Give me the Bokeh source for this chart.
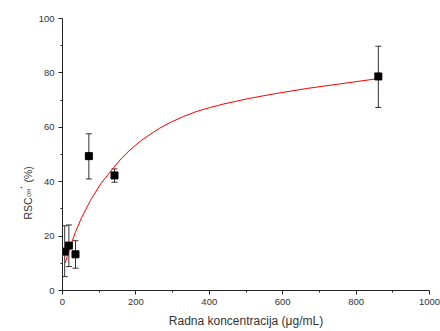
from bokeh.plotting import figure
from bokeh.layouts import row
from bokeh.models import ColumnDataSource, Whisker, TeeHead, Range1d, FixedTicker
from bokeh.core.properties import value
from bokeh.embed import file_html
from bokeh.resources import INLINE

# measured points
conc = [6, 17.4, 35.4, 71.8, 141.7, 860.6]
rsc = [14.3, 16.5, 13.3, 49.4, 42.3, 78.7]
err_low = [5.1, 8.8, 8.2, 41.0, 39.8, 67.3]
err_high = [23.8, 24.1, 18.3, 57.6, 44.7, 89.8]

# fitted curve
fit_x = [8, 12, 22, 35, 52, 76, 104, 140, 160, 181, 210, 240, 265, 294, 330, 367, 400, 440, 508, 576, 667, 758, 860]
fit_y = [10.2, 12.2, 16.5, 21.4, 26.8, 33.1, 39.2, 45.3, 48.5, 51.3, 54.7, 57.5, 59.7, 61.8, 64.0, 65.9, 67.2, 68.6, 70.6, 72.3, 74.3, 76.0, 77.9]

x_ticks = [0, 200, 400, 600, 800, 1000]
y_ticks = [0, 20, 40, 60, 80, 100]

FONT = "Liberation Sans"
TXT = "#333333"

p = figure(frame_width=367, frame_height=272, output_backend="svg", toolbar_location=None,
           x_range=Range1d(0, 1000), y_range=Range1d(0, 100),
           min_border_left=28, min_border_right=11, min_border_top=18, min_border_bottom=41)
p.outline_line_color = None
p.xgrid.visible = False
p.ygrid.visible = False

for ax in (p.xaxis[0], p.yaxis[0]):
    ax.axis_line_color = "#222222"
    ax.major_tick_line_color = "#222222"
    ax.minor_tick_line_color = "#222222"
    ax.major_tick_in = 0
    ax.major_tick_out = 4
    ax.minor_tick_in = 0
    ax.minor_tick_out = 2
    ax.major_label_text_font = FONT
    ax.major_label_text_font_size = "9.5px"
    ax.major_label_text_color = TXT
    ax.major_label_standoff = 4

p.xaxis.ticker = FixedTicker(ticks=x_ticks, minor_ticks=[100, 300, 500, 700, 900])
p.yaxis.ticker = FixedTicker(ticks=y_ticks, minor_ticks=[10, 30, 50, 70, 90])
p.xaxis.axis_label = "Radna koncentracija (\u03bcg/mL)"
p.xaxis.axis_label_text_font = FONT
p.xaxis.axis_label_text_font_size = "12px"
p.xaxis.axis_label_text_font_style = "normal"
p.xaxis.axis_label_text_color = TXT
p.xaxis.axis_label_standoff = 6

src = ColumnDataSource(dict(x=conc, y=rsc, lo=err_low, hi=err_high))
p.add_layout(Whisker(source=src, base="x", lower="lo", upper="hi", line_color="#333333", line_width=1,
                     lower_head=TeeHead(size=6, line_color="#333333", line_width=1),
                     upper_head=TeeHead(size=6, line_color="#333333", line_width=1)))
p.line(fit_x, fit_y, line_color="#ff0000", line_width=1)
p.scatter("x", "y", source=src, marker="square", size=7, fill_color="black", line_color="black")

# y-axis title RSC_OH• (%) drawn in a narrow side figure (1 unit = 1 pixel, y up from bottom)
H = 331
lab = figure(frame_width=34, frame_height=H, output_backend="svg", toolbar_location=None,
             x_range=Range1d(0, 34), y_range=Range1d(0, H),
             x_axis_location=None, y_axis_location=None,
             min_border_left=0, min_border_right=0, min_border_top=0, min_border_bottom=0)
lab.outline_line_color = None
lab.grid.visible = False

def txt(t, x, y, size, align="left", base="alphabetic"):
    lab.text(x=[x], y=[H - y], text=[t], angle=90, angle_units="deg", text_font=value(FONT),
             text_font_size=value(size), text_color=TXT,
             text_align=value(align), text_baseline=value(base))

txt("RSC", 27.5, 201, "10.5px")
txt("OH", 28.7, 178.5, "5.5px")
txt("\u2022", 20.7, 169, "6px", align="center", base="middle")
txt("(%)", 27.5, 164, "10.5px")

layout = row(lab, p, spacing=0)
open("out.html", "w").write(file_html(layout, INLINE))
